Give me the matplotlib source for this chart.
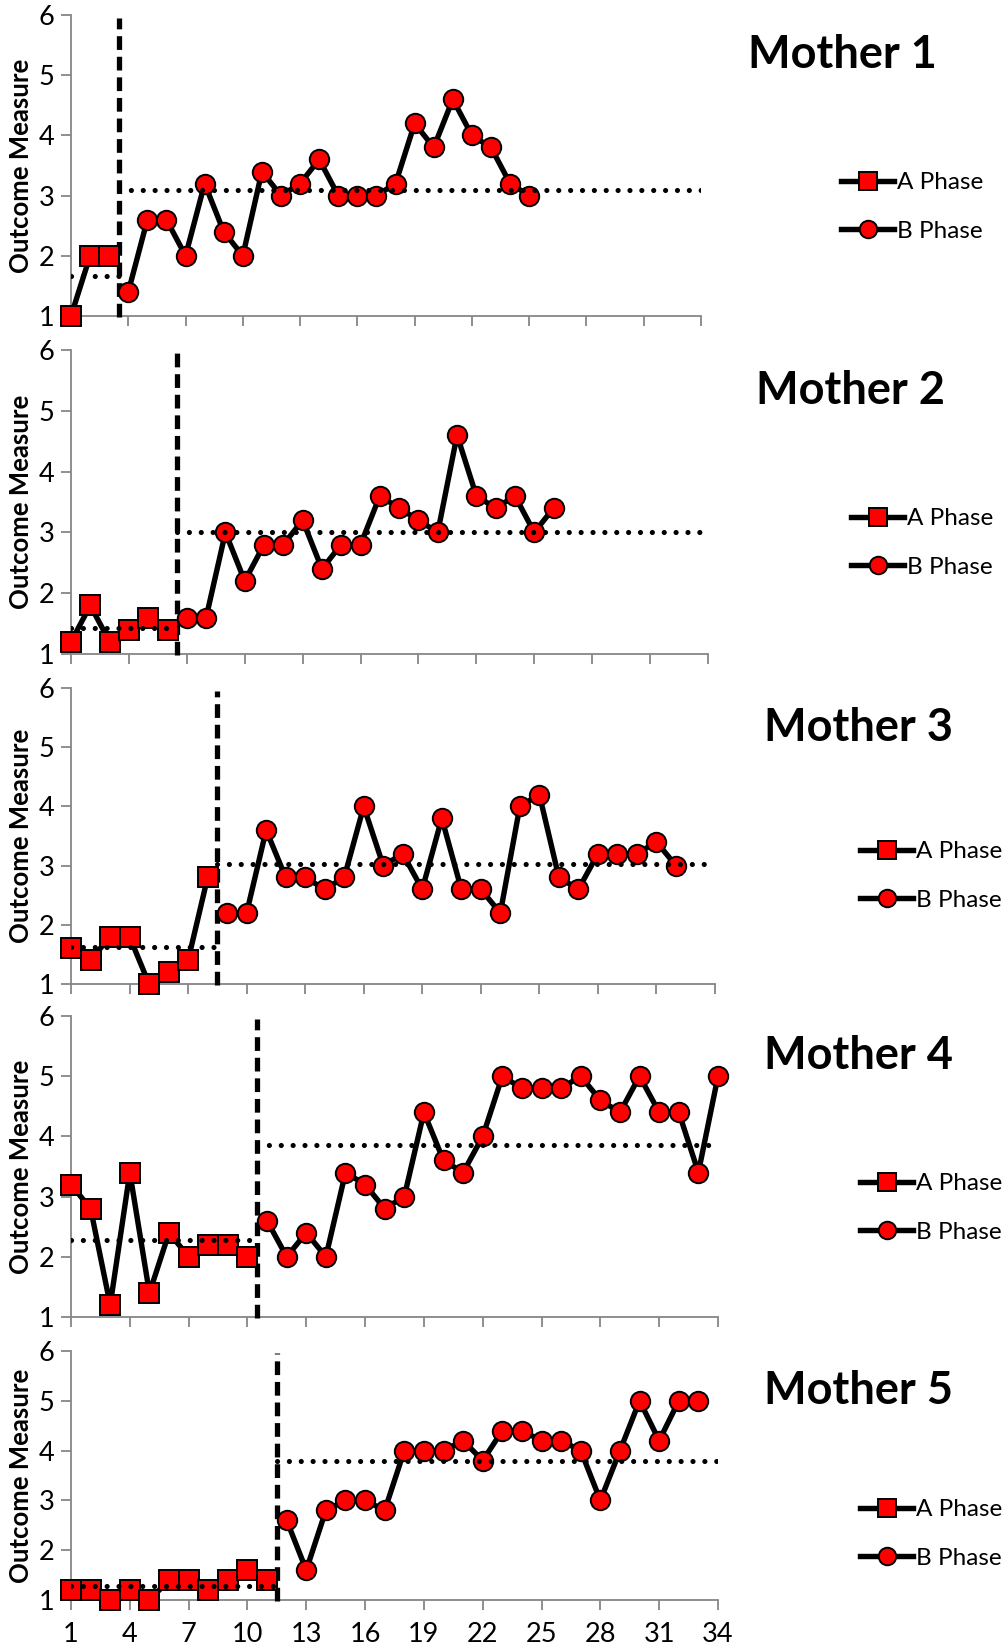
import numpy as np
import matplotlib.pyplot as plt

plt.rcParams['font.family'] = ['Lato', 'DejaVu Sans']

# A phase / B phase scores for each mother (sessions numbered from 1)
mothers = ['Mother 1', 'Mother 2', 'Mother 3', 'Mother 4', 'Mother 5']
a1 = [1.0, 2.0, 2.0]
b1 = [1.4, 2.6, 2.6, 2.0, 3.2, 2.4, 2.0, 3.4, 3.0, 3.2, 3.6, 3.0, 3.0, 3.0, 3.2,
      4.2, 3.8, 4.6, 4.0, 3.8, 3.2, 3.0]
a2 = [1.2, 1.8, 1.2, 1.4, 1.6, 1.4]
b2 = [1.6, 1.6, 3.0, 2.2, 2.8, 2.8, 3.2, 2.4, 2.8, 2.8, 3.6, 3.4, 3.2, 3.0, 4.6,
      3.6, 3.4, 3.6, 3.0, 3.4]
a3 = [1.6, 1.4, 1.8, 1.8, 1.0, 1.2, 1.4, 2.8]
b3 = [2.2, 2.2, 3.6, 2.8, 2.8, 2.6, 2.8, 4.0, 3.0, 3.2, 2.6, 3.8, 2.6, 2.6, 2.2,
      4.0, 4.2, 2.8, 2.6, 3.2, 3.2, 3.2, 3.4, 3.0]
a4 = [3.2, 2.8, 1.2, 3.4, 1.4, 2.4, 2.0, 2.2, 2.2, 2.0]
b4 = [2.6, 2.0, 2.4, 2.0, 3.4, 3.2, 2.8, 3.0, 4.4, 3.6, 3.4, 4.0, 5.0, 4.8, 4.8,
      4.8, 5.0, 4.6, 4.4, 5.0, 4.4, 4.4, 3.4, 5.0]
a5 = [1.2, 1.2, 1.0, 1.2, 1.0, 1.4, 1.4, 1.2, 1.4, 1.6, 1.4]
b5 = [2.6, 1.6, 2.8, 3.0, 3.0, 2.8, 4.0, 4.0, 4.0, 4.2, 3.8, 4.4, 4.4, 4.2, 4.2,
      4.0, 3.0, 4.0, 5.0, 4.2, 5.0, 5.0]
a_phases = [a1, a2, a3, a4, a5]
b_phases = [b1, b2, b3, b4, b5]
x_max = 34
x_ticks = list(range(1, 35, 3))
y_ticks = [1, 2, 3, 4, 5, 6]

W, H = 1008, 1648
fig = plt.figure(figsize=(W / 100, H / 100), dpi=100)

# panel boxes in pixels: right edge, y of value 6, y of value 1
boxes = [(701, 15, 316), (708, 350, 654), (715, 688, 984),
         (718, 1016, 1317), (718, 1351, 1600)]
left = 71
title_pos = [(842, 55), (850, 391), (858, 728), (858, 1056), (858, 1391)]
legend_pos = [(841, 207), (851, 543), (860, 876), (860, 1208), (860, 1534)]

gray = '#868686'
for i in range(5):
    right, top, bottom = boxes[i]
    ax = fig.add_axes([left / W, 1 - bottom / H, (right - left) / W, (bottom - top) / H])
    a = a_phases[i]
    b = b_phases[i]
    xa = np.arange(1, len(a) + 1)
    xb = np.arange(len(a) + 1, len(a) + len(b) + 1)
    change = len(a) + 0.5

    ax.plot(xa, a, color='black', lw=3.9, marker='s', ms=14.5, mfc='red', mec='black',
            mew=1.4, clip_on=False, zorder=5, label='A Phase')
    ax.plot(xb, b, color='black', lw=3.9, marker='o', ms=14, mfc='red', mec='black',
            mew=1.4, clip_on=False, zorder=5, label='B Phase')

    # phase means
    ax.plot([1, change], [np.mean(a)] * 2, color='black', lw=3.7, ls=(0, (0.01, 2.3)),
            dash_capstyle='round', zorder=6)
    ax.plot([change, x_max], [np.mean(b)] * 2, color='black', lw=3.7, ls=(0, (0.01, 2.3)),
            dash_capstyle='round', zorder=6)
    # phase change line
    ax.plot([change, change], [0.98, 5.95], color='black', lw=3.8, ls=(0, (2.6, 1.3)),
            clip_on=False, zorder=4)

    ax.set_xlim(1, x_max)
    ax.set_ylim(1, 6)
    ax.set_xticks(x_ticks)
    ax.set_yticks(y_ticks)
    ax.tick_params(axis='both', colors=gray, length=7, width=1.3, labelcolor='black',
                   labelsize=19.5)
    if i < 4:
        ax.set_xticklabels([])
    ax.tick_params(axis='x', pad=9)
    ax.tick_params(axis='y', pad=5)
    for s in ['top', 'right']:
        ax.spines[s].set_visible(False)
    for s in ['left', 'bottom']:
        ax.spines[s].set_color(gray)
        ax.spines[s].set_linewidth(1.3)
    ax.set_ylabel('Outcome Measure', fontsize=18.5, fontweight='bold', labelpad=4)

    tx, ty = title_pos[i]
    fig.text(tx / W, 1 - ty / H, mothers[i], fontsize=32.5, fontweight='bold',
             ha='center', va='center')
    lx, ly = legend_pos[i]
    ax.legend(loc='center left', bbox_to_anchor=(lx / W, 1 - ly / H),
              bbox_transform=fig.transFigure, frameon=False, fontsize=17.5,
              borderpad=0, borderaxespad=0, handlelength=2.2, handletextpad=0.1,
              labelspacing=1.15, markerscale=0.9)

fig.savefig('out.png', dpi=100)
